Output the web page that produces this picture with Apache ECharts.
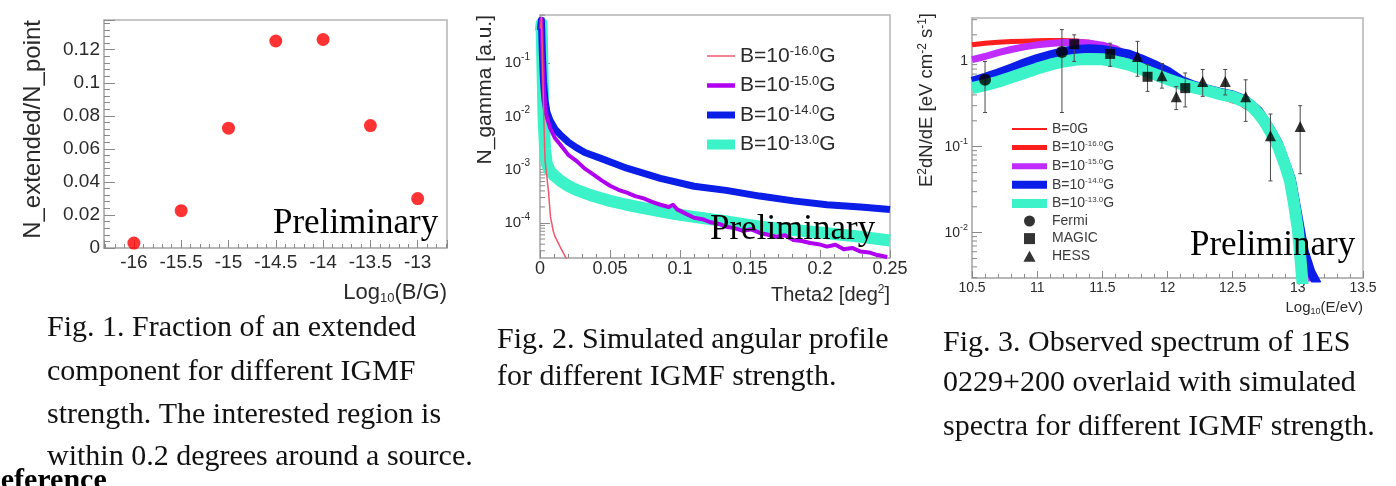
<!DOCTYPE html>
<html>
<head>
<meta charset="utf-8">
<script src="https://cdn.jsdelivr.net/npm/echarts@6.0.0/dist/echarts.min.js"></script>
<style>
html,body{margin:0;padding:0;background:#ffffff;overflow:hidden;}
#chart{width:1396px;height:486px;}
</style>
</head>
<body>
<div id="chart"></div>
<script>
// ---------------- Fig. 1 : fraction of extended component ----------------
const fig1LogB = [-16, -15.5, -15, -14.5, -14, -13.5, -13];
const fig1Fraction = [0.003, 0.0226, 0.0725, 0.1253, 0.1262, 0.0741, 0.0299];

// ---------------- Fig. 2 : angular profile  [theta2 (deg^2), N_gamma] ----------------
const fig2B16 = [[0.0003,0.45],[0.001,0.72],[0.0017,0.15],[0.0025,0.015],[0.0036,0.0015],[0.006,0.0004],
  [0.0075,0.00013],[0.0095,0.00007],[0.0107,0.000056],[0.0143,0.000036],[0.019,0.000021]];
const fig2B15 = [[0.0003,0.45],[0.001,0.68],[0.0017,0.15],[0.0025,0.045],[0.0036,0.017],[0.005,0.0095],
  [0.0071,0.0062],[0.0107,0.0039],[0.0143,0.003],[0.0202,0.0019],[0.0262,0.00145],[0.032,0.00105],
  [0.038,0.00082],[0.044,0.00063],[0.05,0.0005],[0.056,0.00042],[0.062,0.00037],[0.068,0.00032],
  [0.074,0.00029],[0.08,0.00025],[0.086,0.00022],[0.092,0.0002],[0.095,0.00022],[0.098,0.00018],
  [0.104,0.00015],[0.11,0.000125],[0.116,0.000118],[0.122,0.000103],[0.128,0.000096],[0.133,0.000085],
  [0.139,0.00008],[0.145,0.000071],[0.151,0.000076],[0.157,0.000065],[0.163,0.00006],[0.169,0.000055],
  [0.175,0.000059],[0.181,0.000048],[0.187,0.000046],[0.193,0.000042],[0.199,0.00004],[0.205,0.000036],
  [0.211,0.000039],[0.217,0.000032],[0.223,0.000034],[0.229,0.000029],[0.235,0.000028],[0.241,0.000025],
  [0.248,0.000023]];
const fig2B14 = [[0.0003,0.42],[0.001,0.64],[0.0017,0.15],[0.0025,0.045],[0.0036,0.02],[0.005,0.012],
  [0.0071,0.0085],[0.0107,0.0058],[0.0143,0.0046],[0.0202,0.0033],[0.026,0.0026],[0.032,0.0021],
  [0.043,0.00165],[0.062,0.00107],[0.086,0.00069],[0.11,0.00049],[0.133,0.00041],[0.157,0.00032],
  [0.181,0.00026],[0.205,0.00022],[0.229,0.0002],[0.25,0.00018]];
const fig2B13 = [[0.0005,0.4],[0.0011,0.55],[0.0017,0.1],[0.0025,0.01],[0.0036,0.0025],[0.0048,0.0013],
  [0.007,0.00095],[0.01,0.00078],[0.0143,0.00063],[0.02,0.0005],[0.026,0.00042],[0.038,0.00032],
  [0.05,0.00026],[0.062,0.00022],[0.074,0.00019],[0.086,0.000166],[0.098,0.000145],[0.11,0.00013],
  [0.133,0.000107],[0.157,0.000085],[0.181,0.000074],[0.205,0.000064],[0.229,0.000055],[0.25,0.000047]];
const fig2LegendExp = ['-16.0', '-15.0', '-14.0', '-13.0'];

// ---------------- Fig. 3 : spectrum of 1ES 0229+200  [log10(E/eV), E^2 dN/dE] ----------------
const fig3B0 = [[10.5,1.55],[10.8,1.68],[11.1,1.72],[11.4,1.65],[11.7,1.15],[12.0,0.62],[12.3,0.45],
  [12.6,0.33],[12.8,0.14],[12.95,0.045],[13.05,0.005],[13.1,0.0025]];
const fig3B16 = [[10.5,1.53],[10.6,1.6],[10.7,1.64],[10.8,1.67],[10.9,1.69],[11.0,1.71],[11.1,1.72],
  [11.2,1.72],[11.3,1.7],[11.4,1.64],[11.5,1.5],[11.6,1.32],[11.7,1.12],[11.8,0.92],[11.9,0.75],
  [12.0,0.62],[12.1,0.53],[12.2,0.47],[12.3,0.43],[12.4,0.39],[12.5,0.34],[12.55,0.33],[12.6,0.29],
  [12.65,0.27],[12.7,0.22],[12.75,0.18],[12.8,0.135],[12.85,0.1],[12.9,0.07],[12.95,0.045],
  [12.98,0.03],[13.0,0.02],[13.03,0.009],[13.06,0.004],[13.1,0.0025]];
const fig3B15 = [[10.5,1.03],[10.6,1.12],[10.7,1.24],[10.8,1.35],[10.9,1.45],[11.0,1.53],[11.1,1.59],
  [11.2,1.63],[11.3,1.64],[11.4,1.6],[11.5,1.52],[11.6,1.38],[11.7,1.15],[11.8,0.95],[11.9,0.8],
  [12.0,0.66],[12.1,0.54],[12.2,0.48],[12.3,0.44],[12.4,0.4],[12.5,0.36],[12.6,0.31],[12.7,0.24],
  [12.8,0.13],[12.9,0.065],[12.95,0.04],[13.0,0.015],[13.05,0.005],[13.1,0.0025]];
const fig3B14 = [[10.5,0.575],[10.6,0.64],[10.7,0.72],[10.8,0.82],[10.9,0.94],[11.0,1.06],[11.1,1.17],
  [11.2,1.28],[11.3,1.35],[11.4,1.38],[11.5,1.35],[11.6,1.27],[11.7,1.2],[11.8,1.05],[11.9,0.9],
  [12.0,0.76],[12.1,0.6],[12.2,0.52],[12.3,0.47],[12.4,0.43],[12.5,0.4],[12.6,0.35],[12.7,0.26],
  [12.75,0.2],[12.8,0.15],[12.85,0.11],[12.9,0.068],[12.95,0.042],[13.0,0.016],[13.05,0.006],
  [13.1,0.0035],[13.15,0.0025]];
const fig3B13 = [[10.5,0.48],[10.6,0.52],[10.7,0.57],[10.8,0.64],[10.9,0.72],[11.0,0.81],[11.1,0.9],
  [11.2,0.98],[11.3,1.03],[11.4,1.05],[11.5,1.04],[11.6,0.98],[11.7,0.9],[11.8,0.8],[11.9,0.7],
  [12.0,0.61],[12.1,0.54],[12.2,0.49],[12.3,0.45],[12.4,0.41],[12.5,0.38],[12.6,0.33],[12.65,0.29],
  [12.7,0.24],[12.75,0.19],[12.8,0.14],[12.85,0.1],[12.9,0.062],[12.94,0.04],[12.97,0.022],
  [13.0,0.011],[13.02,0.005],[13.04,0.0022]];
const fermiLogE = [10.60, 11.19];
const fermiFlux = [0.60, 1.26];
const fermiLow  = [0.25, 0.25];
const fermiHigh = [0.98, 2.3];
const magicLogE = [11.284, 11.56, 11.847, 12.136];
const magicFlux = [1.56, 1.2, 0.65, 0.48];
const magicLow  = [0.98, 0.86, 0.44, 0.29];
const magicHigh = [2.0, 1.6, 0.9, 0.72];
const hessLogE = [11.77, 11.957, 12.067, 12.27, 12.443, 12.60, 12.79, 13.018];
const hessFlux = [1.12, 0.67, 0.38, 0.575, 0.575, 0.38, 0.134, 0.172];
const hessLow  = [0.66, 0.48, 0.27, 0.385, 0.40, 0.197, 0.04, 0.0485];
const hessHigh = [1.68, 0.93, 0.50, 0.79, 0.79, 0.60, 0.24, 0.30];
const fig3LegendText = ['B=0G', '-16.0', '-15.0', '-14.0', '-13.0', 'Fermi', 'MAGIC', 'HESS'];

// log-axis minor tick multipliers and decades
const minorSteps = [2, 3, 4, 5, 6, 7, 8, 9];
const fig2Decades = [1e-5, 1e-4, 1e-3, 1e-2, 1e-1];
const fig3Decades = [1e-3, 1e-2, 1e-1, 1];

// captions
const fig1Caption = ['Fig. 1. Fraction of an extended', 'component for different IGMF',
  'strength. The interested region is', 'within 0.2 degrees around a source.'];
const fig2Caption = ['Fig. 2. Simulated angular profile', 'for different IGMF strength.'];
const fig3Caption = ['Fig. 3. Observed spectrum of 1ES', '0229+200 overlaid with simulated',
  'spectra for different IGMF strength.'];

// ======================= styling / building =======================
const SANS = "'Liberation Sans', Arial, Helvetica, sans-serif";
const SERIF = "'Liberation Serif', 'Times New Roman', serif";
const TXT = '#2a2a2a';
const FRAME = '#b4b4b4';
const TICK = '#8a8a8a';

const C_RED2 = '#f2566c', C_MAG = '#b000f0', C_BLUE = '#0a1ee8', C_CYAN = '#3cf2c8';
const C_RED3 = '#ff1e1e', C_MAG3 = '#c02cff';

const F2 = {xmin: 0, xmax: 0.25, ymin: 2.2e-5, ymax: 0.805};
const F3 = {xmin: 10.5, xmax: 13.5, ymin: 0.00297, ymax: 3.14};

function logLabel(v) {
  const e = Math.log10(v), r = Math.round(e);
  if (Math.abs(e - r) > 1e-6) return '';
  if (r === 0) return '1';
  return '{b|10}{s|' + r + '}';
}

function minorTickData(decades, xmin, lo, hi) {
  const out = [];
  decades.forEach(d => minorSteps.forEach(k => { const v = k * d; if (v > lo && v < hi) out.push([xmin, v]); }));
  return out;
}
function minorTickItem(params, api) {
  const p = api.coord([api.value(0), api.value(1)]);
  return {type: 'line', silent: true, shape: {x1: p[0], y1: p[1], x2: p[0] + 5, y2: p[1]},
    style: {stroke: TICK, lineWidth: 1}};
}
function errItem(params, api) {
  const x = api.value(0);
  const a = api.coord([x, api.value(1)]), b = api.coord([x, api.value(2)]);
  const st = {stroke: '#4a4a4a', lineWidth: 1};
  return {type: 'group', silent: true, children: [
    {type: 'line', shape: {x1: a[0], y1: a[1], x2: b[0], y2: b[1]}, style: st},
    {type: 'line', shape: {x1: a[0] - 2, y1: a[1], x2: a[0] + 2, y2: a[1]}, style: st},
    {type: 'line', shape: {x1: b[0] - 2, y1: b[1], x2: b[0] + 2, y2: b[1]}, style: st}
  ]};
}
function zipPts(xs, ys) { return xs.map((x, i) => [x, ys[i]]); }
function zipErr(xs, lo, hi) { return xs.map((x, i) => [x, lo[i], hi[i]]); }

function gridBox(l, t, w, h) {
  return {left: l, top: t, width: w, height: h, show: true, borderColor: FRAME, borderWidth: 1.5,
    backgroundColor: 'transparent', containLabel: false, outerBoundsMode: 'none'};
}
function lineS(name, xi, data, color, width) {
  return {name: name, type: 'line', xAxisIndex: xi, yAxisIndex: xi, data: data, showSymbol: false,
    symbol: 'none', clip: true, silent: true, z: 2, lineStyle: {color: color, width: width, join: 'round'},
    itemStyle: {color: color}, emphasis: {disabled: true}};
}

const axisLineStyle = {show: true, onZero: false, lineStyle: {color: FRAME, width: 1.5}};

const xAxes = [
  {type: 'value', gridIndex: 0, min: -16.316, max: -12.69, minInterval: 0.5, maxInterval: 0.5, splitNumber: 7,
   axisLine: axisLineStyle, splitLine: {show: false},
   axisTick: {inside: true, length: 8, lineStyle: {color: TICK}},
   minorTick: {show: true, splitNumber: 5, length: 4, lineStyle: {color: TICK}},
   axisLabel: {fontSize: 19, fontFamily: SANS, color: TXT, margin: 5, showMinLabel: false, showMaxLabel: false}},
  {type: 'value', gridIndex: 1, min: F2.xmin, max: F2.xmax, interval: 0.05,
   axisLine: axisLineStyle, splitLine: {show: false},
   axisTick: {inside: true, length: 8, lineStyle: {color: TICK}},
   minorTick: {show: true, splitNumber: 5, length: 4, lineStyle: {color: TICK}},
   axisLabel: {fontSize: 18, fontFamily: SANS, color: TXT, margin: 2}},
  {type: 'value', gridIndex: 2, min: F3.xmin, max: F3.xmax, interval: 0.5,
   axisLine: axisLineStyle, splitLine: {show: false},
   axisTick: {inside: true, length: 7, lineStyle: {color: TICK}},
   minorTick: {show: true, splitNumber: 5, length: 4, lineStyle: {color: TICK}},
   axisLabel: {fontSize: 14, fontFamily: SANS, color: TXT, margin: 3}}
];
const yAxes = [
  {type: 'value', gridIndex: 0, min: 0, max: 0.138, minInterval: 0.02, maxInterval: 0.02, splitNumber: 7,
   axisLine: axisLineStyle, splitLine: {show: false},
   axisTick: {inside: true, length: 11, lineStyle: {color: TICK}},
   minorTick: {show: true, splitNumber: 5, length: 6, lineStyle: {color: TICK}},
   axisLabel: {fontSize: 19, fontFamily: SANS, color: TXT, margin: 4, showMaxLabel: false}},
  {type: 'log', logBase: 10, gridIndex: 1, min: F2.ymin, max: F2.ymax,
   axisLine: axisLineStyle, splitLine: {show: false},
   axisTick: {inside: true, length: 10, lineStyle: {color: TICK}},
   minorTick: {show: false},
   axisLabel: {fontSize: 15, fontFamily: SANS, color: TXT, margin: 10, showMinLabel: false, showMaxLabel: false,
     formatter: logLabel,
     rich: {b: {fontSize: 15, fontFamily: SANS, color: TXT, lineHeight: 22},
            s: {fontSize: 10, fontFamily: SANS, color: TXT, lineHeight: 10, verticalAlign: 'top'}}}},
  {type: 'log', logBase: 10, gridIndex: 2, min: F3.ymin, max: F3.ymax,
   axisLine: axisLineStyle, splitLine: {show: false},
   axisTick: {inside: true, length: 10, lineStyle: {color: TICK}},
   minorTick: {show: false},
   axisLabel: {fontSize: 14, fontFamily: SANS, color: TXT, margin: 4, showMinLabel: false, showMaxLabel: false,
     formatter: logLabel,
     rich: {b: {fontSize: 14, fontFamily: SANS, color: TXT, lineHeight: 20},
            s: {fontSize: 9, fontFamily: SANS, color: TXT, lineHeight: 9, verticalAlign: 'top'}}}}
];

const series = [
  // Fig 1
  {name: 'fig1', type: 'scatter', xAxisIndex: 0, yAxisIndex: 0, data: zipPts(fig1LogB, fig1Fraction),
   symbol: 'circle', symbolSize: 13, itemStyle: {color: '#ff0000'}, silent: true},
  // Fig 2 (drawing order: 1e-13 first, 1e-16 on top)
  lineS('f2_13', 1, fig2B13, C_CYAN, 12),
  lineS('f2_14', 1, fig2B14, C_BLUE, 7),
  lineS('f2_15', 1, fig2B15, C_MAG, 4),
  lineS('f2_16', 1, fig2B16, C_RED2, 1.5),
  {name: 'f2_minor', type: 'custom', xAxisIndex: 1, yAxisIndex: 1, encode: {x: 0, y: 1}, silent: true,
   data: minorTickData(fig2Decades, F2.xmin, F2.ymin, F2.ymax), renderItem: minorTickItem},
  // Fig 3
  lineS('f3_0', 2, fig3B0, C_RED3, 1.5),
  lineS('f3_16', 2, fig3B16, C_RED3, 5),
  lineS('f3_15', 2, fig3B15, C_MAG3, 7),
  lineS('f3_14', 2, fig3B14, C_BLUE, 9),
  lineS('f3_13', 2, fig3B13, C_CYAN, 12),
  {name: 'f3_minor', type: 'custom', xAxisIndex: 2, yAxisIndex: 2, encode: {x: 0, y: 1}, silent: true,
   data: minorTickData(fig3Decades, F3.xmin, F3.ymin, F3.ymax), renderItem: minorTickItem},
  {name: 'f3_err', type: 'custom', xAxisIndex: 2, yAxisIndex: 2, encode: {x: 0, y: [1, 2]}, silent: true, z: 6,
   data: zipErr(fermiLogE, fermiLow, fermiHigh).concat(zipErr(magicLogE, magicLow, magicHigh), zipErr(hessLogE, hessLow, hessHigh)),
   renderItem: errItem},
  {name: 'f3_fermi', type: 'scatter', xAxisIndex: 2, yAxisIndex: 2, data: zipPts(fermiLogE, fermiFlux), z: 7,
   symbol: 'circle', symbolSize: 12, itemStyle: {color: '#000'}, silent: true},
  {name: 'f3_magic', type: 'scatter', xAxisIndex: 2, yAxisIndex: 2, data: zipPts(magicLogE, magicFlux), z: 7,
   symbol: 'rect', symbolSize: 10, itemStyle: {color: '#000'}, silent: true},
  {name: 'f3_hess', type: 'scatter', xAxisIndex: 2, yAxisIndex: 2, data: zipPts(hessLogE, hessFlux), z: 7,
   symbol: 'triangle', symbolSize: 11, itemStyle: {color: '#000'}, silent: true}
];

const f2Names = ['f2_16', 'f2_15', 'f2_14', 'f2_13'];
const f2Thick = [1.5, 4.5, 7, 10];
const f3Names = ['f3_0', 'f3_16', 'f3_15', 'f3_14', 'f3_13', 'f3_fermi', 'f3_magic', 'f3_hess'];
const f3Thick = [2, 5, 6, 8, 9];
const f3Icons = ['path://M5 0A5 5 0 1 1 4.99 0Z', 'path://M0 0H10V10H0Z', 'path://M5 0L10.5 10H-0.5Z'];

const legends = [
  {orient: 'vertical', left: 707, top: 45, padding: 0, itemWidth: 28, itemHeight: 12, itemGap: 8,
   selectedMode: false, itemStyle: {borderWidth: 0},
   data: f2Names.map((n, i) => ({name: n, icon: 'path://M0 0H28V' + f2Thick[i] + 'H0Z'})),
   formatter: n => '{t|B=10}{s|' + fig2LegendExp[f2Names.indexOf(n)] + '}{t|G}',
   textStyle: {color: TXT, fontFamily: SANS, fontSize: 21,
     rich: {t: {fontSize: 21, fontFamily: SANS, color: TXT, lineHeight: 22},
            s: {fontSize: 13, fontFamily: SANS, color: TXT, lineHeight: 11, verticalAlign: 'top'}}}},
  {orient: 'vertical', left: 1012, top: 122, padding: 0, itemWidth: 35, itemHeight: 11, itemGap: 3.6,
   selectedMode: false, itemStyle: {borderWidth: 0},
   data: f3Names.map((n, i) => ({name: n, icon: i < 5 ? 'path://M0 0H35V' + f3Thick[i] + 'H0Z' : f3Icons[i - 5]})),
   formatter: n => {
     const i = f3Names.indexOf(n);
     if (i === 0 || i >= 5) return '{t|' + fig3LegendText[i] + '}';
     return '{t|B=10}{s|' + fig3LegendText[i] + '}{t|G}';
   },
   textStyle: {color: '#3a3a3a', fontFamily: SANS, fontSize: 14,
     rich: {t: {fontSize: 14, fontFamily: SANS, color: '#3a3a3a', lineHeight: 16},
            s: {fontSize: 8, fontFamily: SANS, color: '#3a3a3a', lineHeight: 8, verticalAlign: 'top'}}}}
];

// -------- graphic texts (axis titles, watermarks, captions) --------
function gText(x, y, text, size, opts) {
  opts = opts || {};
  return {type: 'text', x: x, y: y, rotation: opts.rot || 0, silent: true, z: 50,
    style: {text: text, fontSize: size, fontFamily: opts.family || SANS, fontWeight: opts.weight || 'normal',
      fill: opts.fill || TXT, align: opts.align || 'left', verticalAlign: opts.va || 'middle', rich: opts.rich}};
}
function supRich(size, supSize, lh, family) {
  family = family || SANS;
  return {t: {fontSize: size, fontFamily: family, fill: TXT, lineHeight: lh},
          s: {fontSize: supSize, fontFamily: family, fill: TXT, lineHeight: Math.round(supSize * 0.9), verticalAlign: 'top'},
          u: {fontSize: supSize, fontFamily: family, fill: TXT, lineHeight: 6, verticalAlign: 'bottom'}};
}
const elements = [
  gText(33, 20, 'N_extended/N_point', 24, {rot: Math.PI / 2, align: 'right'}),
  gText(447, 293, '{t|Log}{u|10}{t|(B/G)}', 22, {align: 'right', rich: supRich(22, 13, 24)}),
  gText(485, 15, 'N_gamma [a.u.]', 21, {rot: Math.PI / 2, align: 'right'}),
  gText(890, 295, '{t|Theta2 [deg}{s|2}{t|]}', 20, {align: 'right', rich: supRich(20, 12, 22)}),
  gText(927, 13, '{t|E}{s|2}{t|dN/dE [eV cm}{s|-2}{t| s}{s|-1}{t|]}', 18.5, {rot: Math.PI / 2, align: 'right', rich: supRich(18.5, 12, 21)}),
  gText(1363, 308, '{t|Log}{u|10}{t|(E/eV)}', 15, {align: 'right', rich: supRich(15, 9, 17)}),
  gText(273, 224, 'Preliminary', 35, {family: SERIF, fill: '#000'}),
  gText(710, 230, 'Preliminary', 35, {family: SERIF, fill: '#000'}),
  gText(1190, 246, 'Preliminary', 35, {family: SERIF, fill: '#000'}),
  gText(-21, 481, 'Reference', 30, {family: SERIF, fill: '#000', weight: 'bold'})
];
const fig1Y = [328, 372, 415, 457];
fig1Caption.forEach((s, i) => elements.push(gText(47, fig1Y[i], s, 30, {family: SERIF, fill: '#111'})));
const fig2Y = [340, 377];
fig2Caption.forEach((s, i) => elements.push(gText(497, fig2Y[i], s, 30, {family: SERIF, fill: '#111'})));
const fig3Y = [343, 383, 427];
fig3Caption.forEach((s, i) => elements.push(gText(943, fig3Y[i], s, 30, {family: SERIF, fill: '#111'})));

const option = {
  animation: false,
  backgroundColor: '#ffffff',
  tooltip: {show: false},
  grid: [gridBox(104, 20, 343, 228), gridBox(540, 15, 350, 243), gridBox(972, 18, 391, 260)],
  xAxis: xAxes,
  yAxis: yAxes,
  legend: legends,
  series: series,
  graphic: {elements: elements}
};

const chart = echarts.init(document.getElementById('chart'), null, {renderer: 'canvas'});
chart.setOption(option);
</script>
</body>
</html>
